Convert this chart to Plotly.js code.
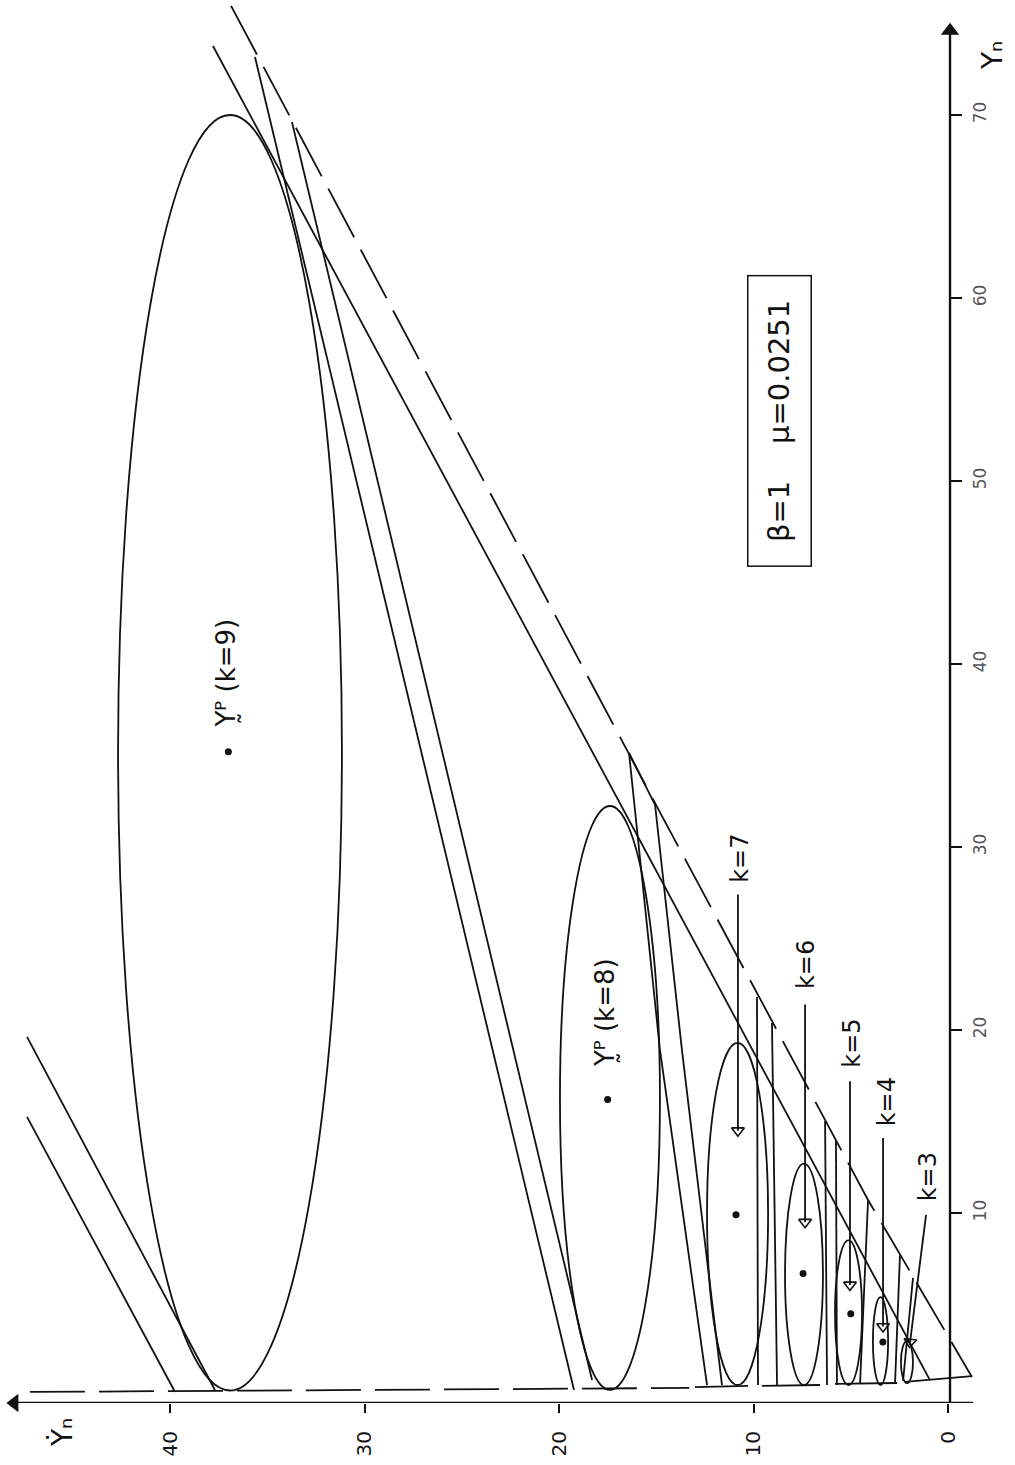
<!DOCTYPE html>
<html><head><meta charset="utf-8">
<script src="https://cdn.plot.ly/plotly-3.0.1.min.js"></script>
<style>html,body{margin:0;padding:0;background:#fff}#chart{width:1015px;height:1465px}</style>
</head><body><div id="chart"></div>
<script>
// Horizontal axis: Ydot_n (increasing to the left); vertical axis: Y_n
const kLabels = [9, 8, 7, 6, 5, 4, 3];
const ellYdotMin = [31.16, 14.81, 9.25, 6.43, 4.42, 3.08, 1.80];
const ellYdotMax = [42.67, 19.95, 12.39, 8.38, 5.81, 3.86, 2.42];
const ellYMin = [0.30, 0.33, 0.60, 0.60, 0.60, 0.60, 0.70];
const ellYMax = [70.0, 32.24, 19.3, 12.7, 8.5, 5.4, 3.0];

const centerYdot = [37.0, 17.5, 10.9, 7.45, 5.0, 3.35];
const centerY = [35.2, 16.2, 9.9, 6.7, 4.5, 2.95];

const envelopeYdot = [36.86, 14.65, 4.11, -1.23];
const envelopeY = [75.96, 31.58, 10.71, 1.04];

const tangentYdot = [37.79, 0.93];
const tangentY = [73.77, 0.87];

const leftTrajYdot = [[47.35, 39.74], [47.35, 37.69]];
const leftTrajY = [[15.25, 0.22], [19.62, 0.33]];

const dropYdot = [
  [35.63, 19.23],
  [33.73, 18.30],
  [12.39, 14.81, 16.40, 15.06, 13.68, 11.62],
  [9.82, 9.77],
  [9.05, 8.79],
  [6.32, 6.22],
  [5.76, 5.71],
  [4.11, 4.52],
  [2.47, 2.72],
  [1.80, 2.31]
];
const dropY = [
  [73.17, 0.33],
  [69.62, 0.87],
  [0.60, 18.91, 35.14, 32.30, 18.91, 0.60],
  [21.80, 0.60],
  [20.38, 0.60],
  [15.03, 0.60],
  [13.99, 0.60],
  [10.71, 0.71],
  [7.70, 0.77],
  [6.45, 0.82]
];

const baseDashYdot = [47.2, 13.3];
const baseDashY = [0.22, 0.44];
const baseYdot = [[13.01, 10.28], [9.56, 6.58], [5.81, 2.62], [2.21, -1.23]];
const baseY = [[0.49, 0.55], [0.55, 0.60], [0.66, 0.71], [0.77, 1.09]];

const arrowK = ['k=7', 'k=6', 'k=5', 'k=4', 'k=3'];
const arrowYdotStart = [10.8, 7.35, 5.04, 3.34, 1.13];
const arrowYStart = [27.4, 21.4, 17.2, 14.1, 9.9];
const arrowYdotEnd = [10.8, 7.35, 5.04, 3.34, 1.95];
const arrowYEnd = [14.5, 9.5, 6.07, 3.8, 2.95];
const labelYdot = [10.7, 7.3, 4.94, 3.14, 1.03];
const labelY = [29.4, 23.55, 19.3, 16.1, 12.0];

const periodicLabels = ['Y\u0330\u1D3E (k=9)', 'Y\u0330\u1D3E (k=8)'];
const periodicLabelYdot = [37.12, 17.63];
const periodicLabelY = [39.48, 20.93];

const xTicks = [0, 10, 20, 30, 40];
const yTicks = [10, 20, 30, 40, 50, 60, 70];

// axis lines (with arrow tips)
const xAxisLineYdot = [-1.3, 48.0];
const xAxisLineY = [-0.3825, -0.3825];
const yAxisLineYdot = [-0.103, -0.103];
const yAxisLineY = [-1.0, 74.6];

const INK = '#111';
const LW = 1.8;
const traces = [];
function line(xs, ys, dash) {
  traces.push({x: xs, y: ys, type: 'scatter', mode: 'lines', hoverinfo: 'skip',
    line: {color: INK, width: LW, dash: dash || 'solid'}});
}
line(envelopeYdot, envelopeY, '55px,14px');
line(tangentYdot, tangentY);
leftTrajYdot.forEach((xs, i) => line(xs, leftTrajY[i]));
dropYdot.forEach((xs, i) => line(xs, dropY[i]));
line(baseDashYdot, baseDashY, '55px,14px');
baseYdot.forEach((xs, i) => line(xs, baseY[i]));
arrowK.forEach((k, i) => line([arrowYdotStart[i], arrowYdotEnd[i]], [arrowYStart[i], arrowYEnd[i]]));
traces.push({x: arrowYdotEnd, y: arrowYEnd, type: 'scatter', mode: 'markers', hoverinfo: 'skip',
  marker: {symbol: 'triangle-down-open', size: 11, color: INK, line: {width: 1.6, color: INK},
    angle: [0, 0, 0, 0, 7]}});
traces.push({x: centerYdot, y: centerY, type: 'scatter', mode: 'markers', hoverinfo: 'skip',
  marker: {symbol: 'circle', size: 7, color: INK}});
// axes
traces.push({x: xAxisLineYdot, y: xAxisLineY, type: 'scatter', mode: 'lines', cliponaxis: false,
  hoverinfo: 'skip', line: {color: INK, width: 2.4}});
traces.push({x: yAxisLineYdot, y: yAxisLineY, type: 'scatter', mode: 'lines', cliponaxis: false,
  hoverinfo: 'skip', line: {color: INK, width: 2.4}});
traces.push({x: [xAxisLineYdot[1]], y: [xAxisLineY[1]], type: 'scatter', mode: 'markers', cliponaxis: false,
  hoverinfo: 'skip', marker: {symbol: 'triangle-left', size: 16, color: INK}});
traces.push({x: [yAxisLineYdot[1]], y: [yAxisLineY[1]], type: 'scatter', mode: 'markers', cliponaxis: false,
  hoverinfo: 'skip', marker: {symbol: 'triangle-up', size: 16, color: INK}});

const shapes = kLabels.map((k, i) => ({
  type: 'circle', xref: 'x', yref: 'y', layer: 'above',
  x0: ellYdotMin[i], x1: ellYdotMax[i], y0: ellYMin[i], y1: ellYMax[i],
  line: {color: INK, width: LW}
}));

const FONT = 'DejaVu Sans, Liberation Sans, sans-serif';
const annotations = [];
arrowK.forEach((k, i) => annotations.push({
  x: labelYdot[i], y: labelY[i], xref: 'x', yref: 'y', text: k, showarrow: false,
  textangle: -90, xanchor: 'center', yanchor: 'middle', font: {family: FONT, size: 24, color: INK}
}));
periodicLabels.forEach((t, i) => annotations.push({
  x: periodicLabelYdot[i], y: periodicLabelY[i], xref: 'x', yref: 'y',
  text: t, showarrow: false,
  textangle: -90, xanchor: 'center', yanchor: 'middle', font: {family: FONT, size: 26, color: INK}
}));
annotations.push({
  x: 8.64, y: 53.28, xref: 'x', yref: 'y', text: 'β=1    μ=0.0251', showarrow: false,
  textangle: -90, xanchor: 'center', yanchor: 'middle', width: 281, height: 54,
  bordercolor: INK, borderwidth: 1.5, borderpad: 4, bgcolor: '#fff',
  font: {family: FONT, size: 29, color: INK}
});
// axis titles
annotations.push({x: 0.0585, y: -0.0215, xref: 'paper', yref: 'paper', text: 'Ẏₙ', showarrow: false,
  textangle: -90, xanchor: 'center', yanchor: 'middle', font: {family: FONT, size: 28, color: INK}});
annotations.push({x: 1.0123, y: 0.9642, xref: 'paper', yref: 'paper', text: 'Yₙ', showarrow: false,
  textangle: -90, xanchor: 'center', yanchor: 'middle', font: {family: FONT, size: 28, color: INK}});

const layout = {
  width: 1015, height: 1465,
  margin: {l: 5, r: 35, t: 5, b: 62},
  paper_bgcolor: '#fff', plot_bgcolor: '#fff',
  showlegend: false,
  font: {family: FONT, color: INK},
  xaxis: {range: [48.483, -1.645], tickvals: xTicks, ticktext: xTicks.map(String), tickangle: -90,
    ticks: 'outside', ticklen: 9, tickwidth: 2, tickcolor: INK, showgrid: false, zeroline: false,
    showline: false, tickfont: {family: FONT, size: 20, color: INK}, ticklabelstandoff: 10, fixedrange: true},
  yaxis: {range: [-0.3825, 76.01], anchor: 'free', position: 0.96923, side: 'right',
    tickvals: yTicks, ticktext: yTicks.map(String), tickangle: -90,
    ticks: 'outside', ticklen: 11, tickwidth: 2, tickcolor: INK, showgrid: false, zeroline: false,
    showline: false, tickfont: {family: FONT, size: 17, color: '#555'}, ticklabelstandoff: 4, fixedrange: true},
  shapes: shapes,
  annotations: annotations
};
Plotly.newPlot('chart', traces, layout, {displayModeBar: false, staticPlot: true});
</script>
</body></html>
